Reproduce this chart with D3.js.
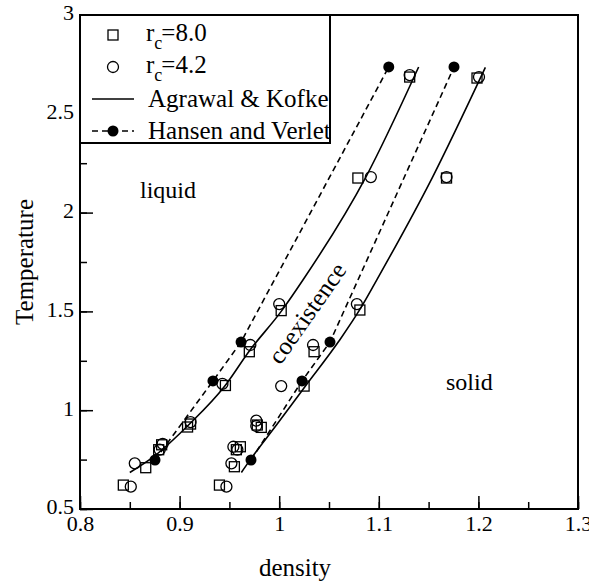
<!DOCTYPE html>
<html>
<head>
<meta charset="utf-8">
<script src="https://cdn.jsdelivr.net/npm/d3@7"></script>
<style>
body { margin: 0; background: #fff; }
svg text { font-family: "Liberation Serif", "Times New Roman", Times, "DejaVu Serif", serif; fill: #000; }
</style>
</head>
<body>
<script>
const width = 589;
const height = 582;
const margin = {top: 15, right: 11, bottom: 73, left: 80};
const serif = "'Liberation Serif', 'Times New Roman', Times, 'DejaVu Serif', serif";

// r_c = 8.0 (open squares) [density, temperature]
const squares = [
	[0.8435, 0.621], [0.866, 0.709], [0.879, 0.80], [0.882, 0.825], [0.908, 0.915], [0.911, 0.93],
	[0.946, 1.125], [0.970, 1.296], [1.002, 1.504], [1.079, 2.175], [1.131, 2.686],
	[0.940, 0.621], [0.955, 0.714], [0.961, 0.815], [0.957, 0.80], [0.978, 0.925], [0.982, 0.913],
	[1.025, 1.122], [1.035, 1.296], [1.081, 1.507], [1.168, 2.175], [1.1986, 2.681]
];

// r_c = 4.2 (open circles)
const circles = [
	[0.851, 0.613], [0.855, 0.731], [0.880, 0.80], [0.883, 0.83], [0.911, 0.94], [0.943, 1.133],
	[0.971, 1.33], [1.000, 1.537], [1.092, 2.18], [1.131, 2.696],
	[0.947, 0.613], [0.952, 0.731], [0.954, 0.815], [0.958, 0.80], [0.977, 0.947], [0.977, 0.92],
	[1.002, 1.122], [1.034, 1.33], [1.078, 1.537], [1.168, 2.18], [1.2006, 2.686]
];

// Agrawal & Kofke coexistence lines
const akLiquid = [[0.850, 0.685], [0.874, 0.765], [0.910, 0.93], [0.945, 1.12], [0.970, 1.30],
	[1.002, 1.50], [1.024, 1.66], [1.087, 2.18], [1.140, 2.737]];
const akSolid = [[0.962, 0.685], [0.971, 0.75], [0.998, 0.93], [1.026, 1.12], [1.060, 1.35],
	[1.081, 1.51], [1.098, 1.66], [1.154, 2.18], [1.207, 2.735]];

// Hansen and Verlet
const hvTemp = [0.748, 1.148, 1.345, 2.737];
const hvLiquid = [0.8753, 0.9335, 0.9617, 1.110];
const hvSolid = [0.9717, 1.0229, 1.051, 1.1755];

const xTicks = [0.8, 0.9, 1.0, 1.1, 1.2, 1.3];
const yTicks = [0.5, 1, 1.5, 2, 2.5, 3];

const x = d3.scaleLinear().domain([0.8, 1.3]).range([margin.left, width - margin.right]);
const y = d3.scaleLinear().domain([0.5, 3]).range([height - margin.bottom, margin.top]);

const svg = d3.select("body").append("svg")
	.attr("width", width)
	.attr("height", height)
	.attr("font-family", serif);

// frame
svg.append("rect")
	.attr("x", x(0.8)).attr("y", y(3))
	.attr("width", x(1.3) - x(0.8)).attr("height", y(0.5) - y(3))
	.attr("fill", "none").attr("stroke", "#000").attr("stroke-width", 2);

// axes with inward ticks
const xAxis = svg.append("g").attr("transform", `translate(0,${y(0.5)})`);
xAxis.call(d3.axisBottom(x).tickValues(d3.range(0.8, 1.3001, 0.05)).tickSize(-7).tickFormat(""));
xAxis.call(g => g.append("g").call(d3.axisBottom(x).tickValues(xTicks).tickSize(-13).tickFormat(d3.format("~g"))));
const yAxis = svg.append("g").attr("transform", `translate(${x(0.8)},0)`);
yAxis.call(d3.axisLeft(y).tickValues(d3.range(0.5, 3.001, 0.25)).tickSize(-7).tickFormat(""));
yAxis.call(g => g.append("g").call(d3.axisLeft(y).tickValues(yTicks).tickSize(-13).tickFormat(d3.format("~g"))));

svg.selectAll("g").attr("font-family", null);
svg.selectAll(".domain").remove();
svg.selectAll(".tick line").attr("stroke", "#000").attr("stroke-width", 1.5);
xAxis.selectAll(".tick text").attr("font-size", 22).attr("dy", 0).attr("y", 22);
yAxis.selectAll(".tick text").attr("font-size", 22).attr("x", -6).attr("dy", "0.22em");
svg.selectAll(".tick text").attr("fill", "#000");

// axis titles
svg.append("text")
	.attr("x", 295).attr("y", 576)
	.attr("text-anchor", "middle").attr("font-size", 25)
	.text("density");
svg.append("text")
	.attr("transform", `translate(33,${(y(0.5) + y(3)) / 2}) rotate(-90)`)
	.attr("text-anchor", "middle").attr("font-size", 25)
	.text("Temperature");

// region labels
svg.append("text").attr("x", 140).attr("y", 198).attr("font-size", 24).text("liquid");
svg.append("text").attr("x", 446).attr("y", 390).attr("font-size", 24).text("solid");
svg.append("text")
	.attr("transform", "translate(314,318) rotate(-55)")
	.attr("text-anchor", "middle").attr("font-size", 25)
	.text("coexistence");

const line = d3.line().x(d => x(d[0])).y(d => y(d[1]));
const curve = d3.line().x(d => x(d[0])).y(d => y(d[1])).curve(d3.curveMonotoneX);

[akLiquid, akSolid].forEach(pts => {
	svg.append("path").datum(pts)
		.attr("d", curve)
		.attr("fill", "none").attr("stroke", "#000").attr("stroke-width", 1.6);
});

[hvLiquid, hvSolid].forEach(dens => {
	const pts = dens.map((d, i) => [d, hvTemp[i]]);
	svg.append("path").datum(pts)
		.attr("d", line)
		.attr("fill", "none").attr("stroke", "#000").attr("stroke-width", 1.6)
		.attr("stroke-dasharray", "6,4");
	svg.selectAll(null).data(pts).enter().append("circle")
		.attr("cx", d => x(d[0])).attr("cy", d => y(d[1]))
		.attr("r", 5.5).attr("fill", "#000");
});

svg.selectAll(null).data(squares).enter().append("rect")
	.attr("x", d => x(d[0]) - 5).attr("y", d => y(d[1]) - 5)
	.attr("width", 10).attr("height", 10)
	.attr("fill", "none").attr("stroke", "#000").attr("stroke-width", 1.3);

svg.selectAll(null).data(circles).enter().append("circle")
	.attr("cx", d => x(d[0])).attr("cy", d => y(d[1]))
	.attr("r", 5.5)
	.attr("fill", "none").attr("stroke", "#000").attr("stroke-width", 1.3);

// legend
const legend = svg.append("g");
const rowY = [35, 67, 99, 131];
legend.append("rect")
	.attr("x", x(0.8)).attr("y", y(3))
	.attr("width", 250).attr("height", 128)
	.attr("fill", "#fff").attr("stroke", "#000").attr("stroke-width", 2);
const lx = 113;
legend.append("rect").attr("x", lx - 5).attr("y", rowY[0] - 5).attr("width", 10).attr("height", 10)
	.attr("fill", "none").attr("stroke", "#000").attr("stroke-width", 1.3);
legend.append("circle").attr("cx", lx).attr("cy", rowY[1]).attr("r", 5.5)
	.attr("fill", "none").attr("stroke", "#000").attr("stroke-width", 1.3);
legend.append("line").attr("x1", 92).attr("x2", 134).attr("y1", rowY[2]).attr("y2", rowY[2])
	.attr("stroke", "#000").attr("stroke-width", 1.6);
legend.append("line").attr("x1", 92).attr("x2", 134).attr("y1", rowY[3]).attr("y2", rowY[3])
	.attr("stroke", "#000").attr("stroke-width", 1.6).attr("stroke-dasharray", "6,4");
legend.append("circle").attr("cx", lx).attr("cy", rowY[3]).attr("r", 5.5).attr("fill", "#000");

const rcLabels = ["=8.0", "=4.2"];
rcLabels.forEach((lab, i) => {
	const t = legend.append("text").attr("x", 146).attr("y", rowY[i] + 6).attr("font-size", 25);
	t.append("tspan").text("r");
	t.append("tspan").attr("font-size", 18).attr("dy", 8).text("c");
	t.append("tspan").attr("dy", -8).attr("dx", -1).text(lab);
});
legend.append("text").attr("x", 148).attr("y", rowY[2] + 8).attr("font-size", 25).text("Agrawal & Kofke");
legend.append("text").attr("x", 148).attr("y", rowY[3] + 8).attr("font-size", 25).text("Hansen and Verlet");
</script>
</body>
</html>
